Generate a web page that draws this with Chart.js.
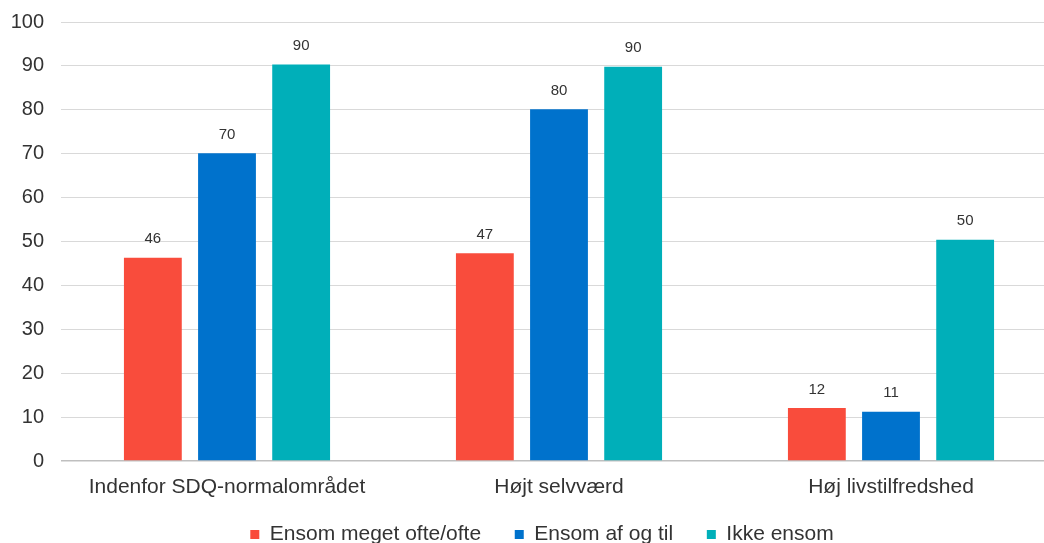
<!DOCTYPE html>
<html>
<head>
<meta charset="utf-8">
<script src="https://cdn.jsdelivr.net/npm/chart.js@4/dist/chart.umd.min.js"></script>
<style>
  body { margin: 0; overflow: hidden; background: #fff; }
</style>
</head>
<body>
<canvas id="lonelyChart" width="1084" height="543"></canvas>
<script>
// Data
const categories = ["Indenfor SDQ-normalområdet", "Højt selvværd", "Høj livstilfredshed"];
const seriesNames = ["Ensom meget ofte/ofte", "Ensom af og til", "Ikke ensom"];
const oftenValues = [46.3, 47.3, 12.1];
const sometimesValues = [70.1, 80.1, 11.2];
const notLonelyValues = [90.3, 89.8, 50.4];
const yTicks = [0, 10, 20, 30, 40, 50, 60, 70, 80, 90, 100];

const colors = ["#f94c3c", "#0072cc", "#00afb9"];
const fontFamily = "'Liberation Sans', Arial, sans-serif";

// Simple plugin to put rounded values above the bars
const valueLabels = {
    id: "valueLabels",
    afterLayout(chart) {
        // centre the legend on the whole canvas, not just the padded box
        chart.legend.right = chart.width;
    },
    afterDatasetsDraw(chart) {
        const ctx = chart.ctx;
        ctx.save();
        ctx.font = "15px " + fontFamily;
        ctx.fillStyle = "#333333";
        ctx.textAlign = "center";
        ctx.textBaseline = "bottom";
        chart.data.datasets.forEach((ds, i) => {
            chart.getDatasetMeta(i).data.forEach((bar, j) => {
                ctx.fillText(Math.round(ds.data[j]), bar.x, bar.y - 11);
            });
        });
        ctx.restore();
    }
};

const ctx = document.getElementById("lonelyChart").getContext("2d");
const lonelyChart = new Chart(ctx, {
    type: "bar",
    data: {
        labels: categories,
        datasets: [
            { label: seriesNames[0], data: oftenValues, backgroundColor: colors[0] },
            { label: seriesNames[1], data: sometimesValues, backgroundColor: colors[1] },
            { label: seriesNames[2], data: notLonelyValues, backgroundColor: colors[2] }
        ]
    },
    options: {
        responsive: false,
        animation: false,
        devicePixelRatio: 1,
        categoryPercentage: 0.67,
        barPercentage: 0.78,
        layout: { padding: { top: 0, right: 27, bottom: -12, left: 0 } },
        scales: {
            x: {
                grid: { display: false },
                border: { display: false },
                afterFit: (scale) => { scale.height = 41; },
                ticks: {
                    color: "#333333",
                    padding: 6,
                    font: { family: fontFamily, size: 21 }
                }
            },
            y: {
                min: 0,
                max: 100,
                afterBuildTicks: (scale) => { scale.ticks = yTicks.map(v => ({ value: v })); },
                afterFit: (scale) => { scale.width = 61; scale.paddingTop = 22; },
                border: { display: false },
                grid: {
                    color: (c) => c.tick && c.tick.value === 0 ? "#bfbfbf" : "#d9d9d9",
                    lineWidth: (c) => c.tick && c.tick.value === 0 ? 1.5 : 1,
                    drawTicks: false
                },
                ticks: {
                    color: "#333333",
                    padding: 17,
                    font: { family: fontFamily, size: 20 }
                }
            }
        },
        plugins: {
            legend: {
                position: "bottom",
                labels: {
                    color: "#333333",
                    boxWidth: 9,
                    boxHeight: 9,
                    padding: 22,
                    font: { family: fontFamily, size: 21 },
                    generateLabels: (chart) => {
                        const items = Chart.defaults.plugins.legend.labels.generateLabels(chart);
                        items.forEach((item, i) => {
                            if (i < items.length - 1) item.text += "  ";
                        });
                        return items;
                    }
                }
            },
            tooltip: { enabled: false }
        }
    },
    plugins: [valueLabels]
});
</script>
</body>
</html>
